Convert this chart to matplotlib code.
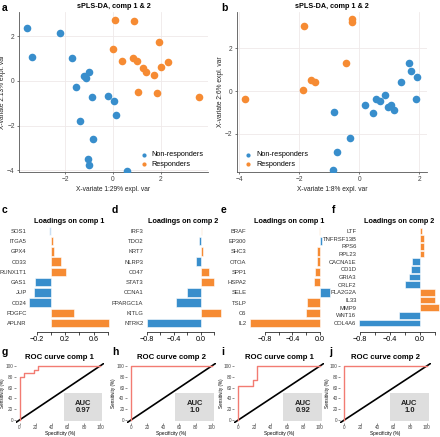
import numpy as np
import matplotlib
matplotlib.use("Agg")
import matplotlib.pyplot as plt
from matplotlib.patches import Rectangle

plt.rcParams['font.family'] = ['Liberation Sans', 'DejaVu Sans']

BLUE = '#388ECC'
ORANGE = '#F68B33'
PALE_BLUE = '#c9def2'
PALE_ORANGE = '#fbd9bd'

# ---- sPLS-DA scores, dataset 1 (panel a)
a_non_x = [-3.57, -2.21, -3.39, -1.70, -1.21, -1.01, -1.13, -1.55, -0.86, -0.21,
           0.05, 0.11, -1.36, -0.82, -1.05, -0.99, 0.57]
a_non_y = [2.39, 2.17, 1.09, 1.03, 0.24, 0.39, 0.12, -0.25, -0.70, -0.67,
           -0.90, -1.54, -1.78, -2.61, -3.51, -3.75, -4.02]
a_res_x = [0.08, 0.89, 1.93, 0.01, 0.38, 0.82, 0.99, 1.26, 1.38, 1.69, 2.01, 2.31,
           1.03, 1.83, 3.58]
a_res_y = [2.74, 2.69, 1.73, 1.45, 0.91, 1.02, 0.90, 0.57, 0.40, 0.26, 0.64, 0.84,
           -0.49, -0.52, -0.70]

# ---- sPLS-DA scores, dataset 2 (panel b)
b_non_x = [1.66, 1.72, 1.93, 1.37, 1.87, 0.84, 0.56, 0.68, 0.96, 1.04, 1.16, 0.19,
           0.46, -0.86, -0.32, -0.76, -0.87]
b_non_y = [1.33, 0.94, 0.66, 0.41, -0.39, -0.19, -0.38, -0.45, -0.74, -0.64, -0.91,
           -0.67, -1.05, -1.00, -2.22, -2.85, -3.71]
b_res_x = [-1.85, -0.26, -0.26, -0.45, -1.62, -1.48, -1.89, -3.81]
b_res_y = [3.05, 3.37, 3.24, 1.33, 0.52, 0.41, 0.05, -0.38]

# ---- loadings
c_genes = ['SOS1', 'ITGA5', 'GPX4', 'CD33', 'RUNX1T1', 'GAS1', 'JUP', 'CD24', 'PDGFC', 'APLNR']
c_vals = [-0.02, 0.03, 0.047, 0.136, 0.21, -0.22, -0.235, -0.305, 0.32, 0.81]
c_cols = [PALE_BLUE, ORANGE, ORANGE, ORANGE, ORANGE, BLUE, BLUE, BLUE, ORANGE, ORANGE]

d_genes = ['IRF3', 'TDO2', 'KRT7', 'NLRP3', 'CD47', 'STAT3', 'CCNA1', 'PPARGC1A', 'KITLG', 'NTRK2']
d_vals = [0.015, -0.02, 0.035, -0.07, 0.12, 0.19, -0.21, -0.36, 0.30, -0.80]
d_cols = [PALE_ORANGE, BLUE, ORANGE, BLUE, ORANGE, ORANGE, BLUE, BLUE, ORANGE, BLUE]

e_genes = ['BRAF', 'EP300', 'SHC3', 'OTOA', 'SPP1', 'HSPA2', 'SELE', 'TSLP', 'C6', 'IL2']
e_vals = [-0.01, 0.03, -0.045, -0.045, -0.07, -0.09, 0.15, -0.19, -0.20, -1.02]
e_cols = [PALE_ORANGE, BLUE, ORANGE, ORANGE, ORANGE, ORANGE, BLUE, ORANGE, ORANGE, ORANGE]

f_genes = ['LTF', 'TNFRSF13B', 'RPS6', 'RPL23', 'CACNA1E', 'CD1D', 'GRIA3', 'CRLF2',
           'PLA2G2A', 'IL33', 'MMP9', 'WNT16', 'COL4A6']
f_vals = [0.03, 0.05, 0.055, 0.06, -0.10, -0.12, -0.145, -0.195, 0.20, 0.20, 0.255, -0.28, -0.81]
f_cols = [ORANGE, ORANGE, ORANGE, ORANGE, BLUE, BLUE, BLUE, BLUE, ORANGE, ORANGE, ORANGE, BLUE, BLUE]

# ---- ROC curves (specificity axis %, sensitivity %)
g_spec = [0, 0, 5.9, 5.9, 17.6, 17.6, 23.5, 23.5, 100]
g_sens = [0, 80, 80, 86.7, 86.7, 93.3, 93.3, 100, 100]
h_spec = [0, 0, 100]
h_sens = [0, 100, 100]
i_spec = [0, 0, 17.6, 17.6, 23.5, 23.5, 100]
i_sens = [0, 62.5, 62.5, 75, 75, 100, 100]
j_spec = [0, 0, 100]
j_sens = [0, 100, 100]
auc_labels = ['0.97', '1.0', '0.92', '1.0']

W, H = 440, 437
fig = plt.figure(figsize=(W / 100, H / 100), dpi=100)


def px_axes(l, t, r, b):
    return fig.add_axes([l / W, 1 - b / H, (r - l) / W, (b - t) / H])


def scatter_panel(ax, nx, ny, rx, ry, xlim, ylim, xticks, yticks, xlab, ylab, legloc):
    ax.scatter(nx, ny, s=30, color=BLUE, label='Non-responders', zorder=3, linewidths=0)
    ax.scatter(rx, ry, s=30, color=ORANGE, label='Responders', zorder=3, linewidths=0)
    ax.set_xlim(xlim)
    ax.set_ylim(ylim)
    ax.set_xticks(xticks)
    ax.set_yticks(yticks)
    ax.grid(True, color='#efe9e9', lw=0.6)
    ax.set_axisbelow(True)
    for s in ['top', 'right']:
        ax.spines[s].set_visible(False)
    for s in ['left', 'bottom']:
        ax.spines[s].set_color('#555555')
        ax.spines[s].set_linewidth(0.6)
    ax.tick_params(labelsize=4.8, length=1.5, width=0.5, pad=1.5, colors='#444444')
    ax.set_xlabel(xlab, fontsize=4.8, labelpad=2, color='#222222')
    ax.set_ylabel(ylab, fontsize=4.8, labelpad=1, color='#222222')
    ax.set_title('sPLS-DA, comp 1 & 2', fontsize=5.2, fontweight='bold', pad=3)
    ax.legend(loc=legloc, frameon=False, fontsize=5.2, markerscale=0.55,
              handletextpad=0.1, borderaxespad=0.2, labelspacing=0.3)


ax_a = px_axes(19, 12, 208, 172)
scatter_panel(ax_a, a_non_x, a_non_y, a_res_x, a_res_y, (-3.92, 3.96), (-4.08, 3.09),
              [-2, 0, 2], [-4, -2, 0, 2], 'X-variate 1:29% expl. var',
              'X-variate 2:13% expl. var', 'lower right')
ax_b = px_axes(236.7, 12, 427, 172)
scatter_panel(ax_b, b_non_x, b_non_y, b_res_x, b_res_y, (-4.09, 2.25), (-3.80, 3.71),
              [-4, -2, 0, 2], [-2, 0, 2], 'X-variate 1:8% expl. var',
              'X-variate 2:6% expl. var', 'lower left')


def loading_panel(box, genes, vals, cols, xlim, ticks, labels, title):
    ax = px_axes(*box)
    n = len(genes)
    pos = np.arange(n)
    ax.barh(pos, vals, height=0.83, color=cols, edgecolor='white', linewidth=0.4)
    ax.set_xlim(xlim)
    pitch = 92.0 / (n - 1)
    ax.set_ylim(n - 1 + 9.0 / pitch, -6.0 / pitch)
    ax.set_yticks(pos)
    ax.set_yticklabels(genes, fontsize=4.2, color='#333333')
    ax.tick_params(axis='y', length=0, pad=1)
    ax.set_xticks(ticks)
    ax.set_xticklabels(labels, fontsize=5.2)
    ax.tick_params(axis='x', length=2, width=0.5, pad=1)
    for s in ['top', 'right', 'left']:
        ax.spines[s].set_visible(False)
    ax.spines['bottom'].set_linewidth(0.5)
    ax.spines['bottom'].set_bounds(ticks[0], ticks[-1])
    ax.set_title(title, fontsize=5.2, fontweight='bold', pad=1.5)
    return ax


loading_panel((28, 225, 110, 332), c_genes, c_vals, c_cols, (-0.32, 0.83),
              [-0.2, 0.0, 0.2, 0.4, 0.6, 0.8], ['\u22120.2', '', '0.2', '', '0.6', ''],
              'Loadings on comp 1')
loading_panel((144.7, 225, 221.6, 332), d_genes, d_vals, d_cols, (-0.83, 0.31),
              [-0.8, -0.6, -0.4, -0.2, 0.0, 0.2], ['\u22120.8', '', '\u22120.4', '', '0.0', ''],
              'Loadings on comp 2')
loading_panel((247.8, 225, 331, 332), e_genes, e_vals, e_cols, (-1.05, 0.16),
              [-0.8, -0.6, -0.4, -0.2, 0.0], ['\u22120.8', '', '\u22120.4', '', '0.0'],
              'Loadings on comp 1')
loading_panel((357.8, 225, 440, 332), f_genes, f_vals, f_cols, (-0.83, 0.27),
              [-0.8, -0.6, -0.4, -0.2, 0.0, 0.2], ['\u22120.8', '', '\u22120.4', '', '0.0', ''],
              'Loadings on comp 2')


def roc_panel(box, spec, sens, auc, title):
    ax = px_axes(*box)
    ax.set_xlim(-5, 105)
    ax.set_ylim(-5, 105)
    ax.axline((0, 0), slope=1, color='black', lw=1.2, zorder=2)
    ax.plot(spec, sens, color='#f27b72', lw=1.0, zorder=3)
    ax.add_patch(Rectangle((55, -1.5), 48, 51, facecolor='#dedede', edgecolor='none', zorder=1))
    ax.text(79, 24, 'AUC\n' + auc, ha='center', va='center', fontsize=5.5,
            fontweight='bold', color='#222222', linespacing=1.15, zorder=4)
    ax.set_xticks(range(0, 101, 20))
    ax.set_yticks(range(0, 101, 20))
    ax.tick_params(labelsize=3.4, length=1.2, width=0.4, pad=0.6, colors='#444444')
    for s in ax.spines.values():
        s.set_visible(False)
    ax.set_xlabel('Specificity (%)', fontsize=3.4, labelpad=0.8)
    ax.set_ylabel('Sensitivity (%)', fontsize=3.3, labelpad=0.3)
    ax.set_title(title, fontsize=5.6, fontweight='bold', pad=3)


roc_panel((15.5, 363.3, 104, 422.7), g_spec, g_sens, auc_labels[0], 'ROC curve comp 1')
roc_panel((127, 363.3, 215.7, 422.7), h_spec, h_sens, auc_labels[1], 'ROC curve comp 2')
roc_panel((234.2, 363.3, 324, 422.7), i_spec, i_sens, auc_labels[2], 'ROC curve comp 1')
roc_panel((340.2, 363.3, 430.8, 422.7), j_spec, j_sens, auc_labels[3], 'ROC curve comp 2')

# panel letters
letters = [('a', 2, 8), ('b', 221, 8), ('c', 2, 210), ('d', 112, 210), ('e', 221, 210),
           ('f', 332, 210), ('g', 2, 352), ('h', 112, 352), ('i', 221, 352), ('j', 329, 352)]
for lab, x, y in letters:
    fig.text(x / W, 1 - y / H, lab, fontsize=7.5, fontweight='bold', va='center', ha='left')

fig.savefig('out.png', dpi=100)
